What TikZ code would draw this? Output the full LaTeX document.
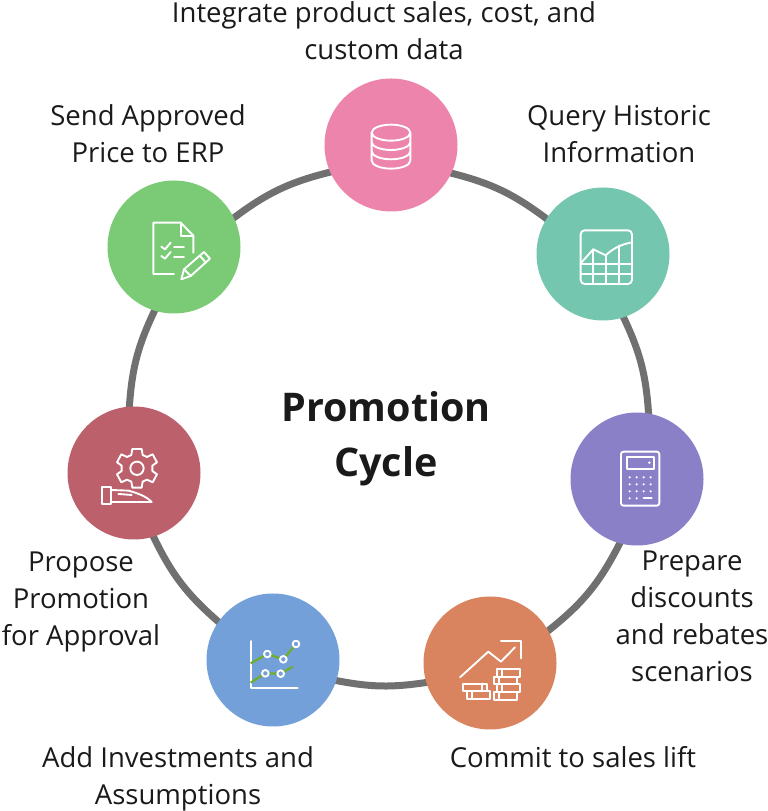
\documentclass[tikz,border=0pt]{standalone}
\usepackage{fontspec}
\setmainfont{Open Sans}
\pgfdeclarelayer{bg}
\pgfsetlayers{bg,main}
\definecolor{cpink}{HTML}{EC84AC}
\definecolor{cteal}{HTML}{74C7AE}
\definecolor{cpurple}{HTML}{8A80C8}
\definecolor{corange}{HTML}{D9835F}
\definecolor{cblue}{HTML}{74A0D9}
\definecolor{cred}{HTML}{BC606B}
\definecolor{cgreen}{HTML}{7BCB76}
\definecolor{cring}{HTML}{707070}
\definecolor{cplot}{HTML}{6FAE2A}
\definecolor{ctext}{HTML}{1A1A1A}
\tikzset{
  x=1pt,y=1pt,
  stepcircle/.style={circle,minimum size=133pt,inner sep=0pt,fill=#1},
  link/.style={draw=cring,line width=7pt,shorten >=-4pt,shorten <=-4pt},
  lab/.style={align=center,inner sep=0pt,text=ctext,font=\fontsize{27.5}{37}\selectfont},
  ttl/.style={align=center,inner sep=0pt,text=ctext,font=\fontsize{39.5}{55}\selectfont\bfseries},
  icon/.style={draw=white,line width=1.9pt,line join=round,line cap=round},
  zoomed/.style={shift={#1},x=.3333pt,y=-.3333pt}
}
\begin{document}
\begin{tikzpicture}
\useasboundingbox (0,0) rectangle (768,811);
\node[stepcircle=cpink] (pink) at (391,666) {};
\node[stepcircle=cteal] (teal) at (603,557) {};
\node[stepcircle=cpurple] (purple) at (637,332) {};
\node[stepcircle=corange] (orange) at (490,148) {};
\node[stepcircle=cblue] (blue) at (273,151) {};
\node[stepcircle=cred] (red) at (134,338) {};
\node[stepcircle=cgreen] (green) at (174,564) {};
\begin{pgfonlayer}{bg}
\draw[link] (pink.-25.6) to[bend left=11.7] (teal.148.85);
\draw[link] (teal.288.55) to[bend left=11] (purple.80.8);
\draw[link] (purple.255.2) to[bend left=12.6] (orange.29);
\draw[link] (orange.197.6) to[bend left=10.05] (blue.-18.3);
\draw[link] (blue.145.87) to[bend left=11.95] (red.-73.6);
\draw[link] (red.94.6) to[bend left=11.05] (green.253.4);
\draw[link] (green.26.8) to[bend left=11.85] (pink.204.4);
\end{pgfonlayer}
% labels
\node[lab] (l1) at (384,780) {Integrate product sales, cost, and\\custom data};
\node[lab] (l2) at (619,677) {Query Historic\\Information};
\node[lab] (l3) at (692,195) {Prepare\\discounts\\and rebates\\scenarios};
\node[lab] (l4) at (573,54) {Commit to sales lift};
\node[lab] (l5) at (178,32) {Add Investments and\\Assumptions};
\node[lab] (l6) at (81,209.5) {Propose\\Promotion\\for Approval};
\node[lab] (l7) at (148,677) {Send Approved\\Price to ERP};
\node[ttl] (title) at (386,372.5) {Promotion\\Cycle};
% database icon
\begin{scope}[zoomed={(320,741)}]
\draw[icon] (213,188) ellipse (58 and 24);
\draw[icon] (155,188) -- (155,272) arc[start angle=180,end angle=0,x radius=58,y radius=24] -- (271,188);
\draw[icon] (155,216) arc[start angle=180,end angle=0,x radius=58,y radius=24];
\draw[icon] (155,244) arc[start angle=180,end angle=0,x radius=58,y radius=24];
\end{scope}
% chart icon
\begin{scope}[zoomed={(320,741)}]
\draw[icon,rounded corners=4pt] (782,481) rectangle (936,642);
\draw[icon] (782,580) -- (820,538) -- (857,556) .. controls (875,540) and (895,525) .. (936,517);
\draw[icon] (782,582) -- (936,582) (782,612) -- (936,612);
\draw[icon] (820,538) -- (820,642) (858,556) -- (858,642) (897,527) -- (897,642);
\end{scope}
% document and pencil icon
\begin{scope}[zoomed={(60,641)}]
\draw[icon] (342,312) -- (280,312) -- (280,158) -- (362,158) -- (400,197) -- (400,248);
\draw[icon] (362,158) -- (362,197) -- (400,197);
\draw[icon] (304,230) -- (315,238) -- (332,218);
\draw[icon] (304,258) -- (315,266) -- (332,246);
\draw[icon] (342,232) -- (372,232) (342,260) -- (372,260);
\draw[icon] (432,246) -- (450,266) -- (392,318) -- (364,328) -- (372,298) -- cycle;
\draw[icon] (420,258) -- (438,278) (372,298) -- (392,318);
\end{scope}
% gear and hand icon
\begin{scope}[zoomed={(60,641)}]
\draw[icon] (231,895) circle (20);
\draw[icon,shift={(-3,-3)}] (220,840) -- (248,840) -- (251,858) -- (264,864) -- (281,856) -- (294,880) -- (280,890) -- (280,906) -- (294,916) -- (281,940) -- (264,932) -- (251,938) -- (248,956) -- (220,956) -- (217,938) -- (204,932) -- (187,940) -- (174,916) -- (188,906) -- (188,890) -- (174,880) -- (187,856) -- (204,864) -- (217,858) -- cycle;
\draw[icon] (125,952) rectangle (152,1002);
\draw[icon] (152,960) -- (205,962) .. controls (235,970) and (260,980) .. (275,996) -- (152,996);
\draw[icon] (175,972) -- (215,975);
\end{scope}
% calculator icon
\begin{scope}[zoomed={(570,401)}]
\draw[icon,rounded corners=2.5pt] (153,125) rectangle (268,287);
\draw[icon] (170,140) rectangle (252,176);
\fill[white] (238,158) circle (4);
\foreach \yy in {202,223,244} \foreach \xx in {179,200,221,242} \fill[white] (\xx,\yy) circle (3.6);
\foreach \xx in {179,200} \fill[white] (\xx,265) circle (3.6);
\draw[icon] (221,265) -- (245,265);
\end{scope}
% growth icon
\begin{scope}[zoomed={(200,221)}]
\draw[icon] (780,262) -- (865,185) -- (903,215) -- (945,172);
\draw[icon] (903,153) -- (962,153) -- (962,205);
\draw[icon] (892,237) rectangle (960,260);
\draw[icon] (882,260) rectangle (950,283);
\draw[icon] (892,283) rectangle (960,306);
\draw[icon] (882,306) rectangle (952,330);
\draw[icon] (790,281) rectangle (860,304);
\draw[icon] (800,304) rectangle (870,327);
\draw[icon] (905,237) -- (905,260) (897,260) -- (897,283) (905,283) -- (905,306) (897,306) -- (897,330) (845,281) -- (845,304) (815,304) -- (815,327);
\end{scope}
% trend chart icon
\begin{scope}[zoomed={(200,221)}]
\draw[icon] (152,153) -- (152,295) -- (293,295);
\draw[draw=cplot,line width=2.2pt] (152,220) -- (202,192) -- (250,208) -- (288,162);
\draw[draw=cplot,line width=2.2pt] (152,278) -- (196,250) -- (242,251) -- (278,230);
\foreach \mx/\my in {202/192,250/208,288/162,196/250,242/251}
  \draw[icon,fill=cblue] (\mx,\my) circle (10);
\end{scope}
\end{tikzpicture}
\end{document}
